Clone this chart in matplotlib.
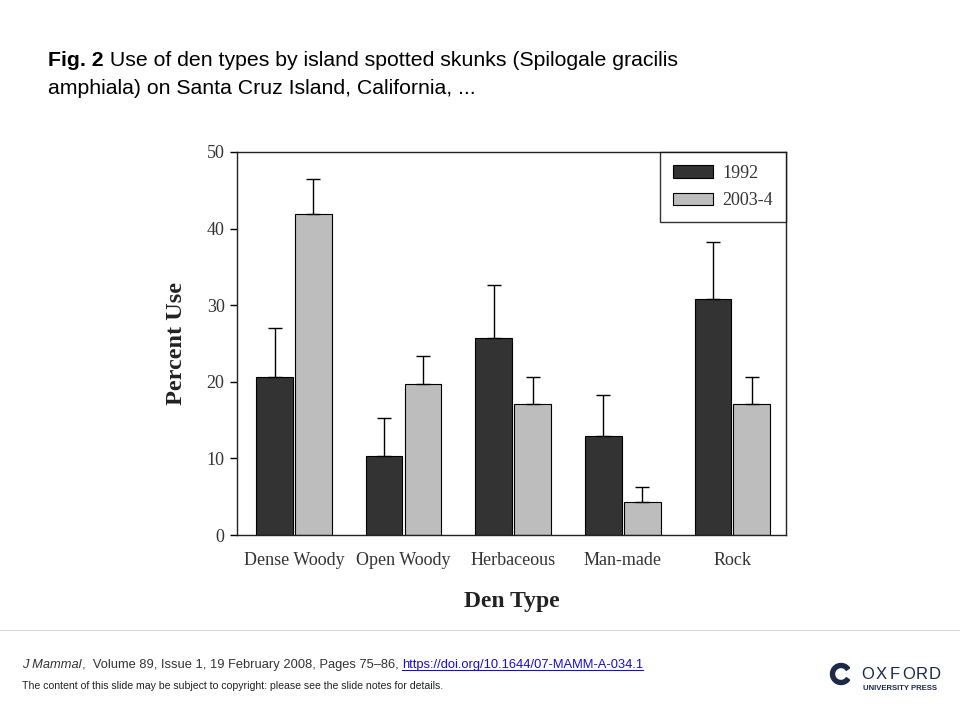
import matplotlib
matplotlib.use("Agg")
import matplotlib.pyplot as plt
import numpy as np
from matplotlib.patches import Wedge

categories = ["Dense Woody", "Open Woody", "Herbaceous", "Man-made", "Rock"]
series_names = ["1992", "2003-4"]
values_1992 = [20.6, 10.3, 25.7, 12.9, 30.8]
errors_1992 = [6.4, 5.0, 6.9, 5.4, 7.5]
values_2003 = [41.9, 19.7, 17.1, 4.3, 17.1]
errors_2003 = [4.6, 3.7, 3.5, 2.0, 3.5]
yticks = [0, 10, 20, 30, 40, 50]

fig = plt.figure(figsize=(9.6, 7.2), dpi=100)
fig.patch.set_facecolor("white")

ov = fig.add_axes([0, 0, 1, 1])
ov.set_xlim(0, 960)
ov.set_ylim(720, 0)
ov.axis("off")

sans = "Liberation Sans"
serif = "Liberation Serif"

t1 = ov.text(48, 66, "Fig. 2", fontsize=15.35, fontweight="bold", family=sans, va="baseline")
ov.annotate(" Use of den types by island spotted skunks (Spilogale gracilis",
            xy=(1, 0), xycoords=t1, fontsize=15.35, family=sans, va="bottom", ha="left")
ov.text(48, 94, "amphiala) on Santa Cruz Island, California, ...", fontsize=15.35, family=sans, va="baseline")

ov.plot([0, 960], [630, 630], color="#d9d9d9", lw=0.8)

f1 = ov.text(22, 668, "J Mammal", fontsize=9.3, family=sans, style="italic", va="baseline", color="#333333")
f2 = ov.annotate(",  Volume 89, Issue 1, 19 February 2008, Pages 75\u201386, ",
                 xy=(1, 0), xycoords=f1, fontsize=9.3, family=sans, va="bottom", ha="left", color="#333333")
f3 = ov.annotate("https://doi.org/10.1644/07-MAMM-A-034.1",
                 xy=(1, 0), xycoords=f2, fontsize=9.3, family=sans, va="bottom", ha="left", color="#1a0dcc")
ov.text(22, 689, "The content of this slide may be subject to copyright: please see the slide notes for details.",
        fontsize=7.6, family=sans, va="baseline", color="#222222")

# Oxford logo
navy = "#1c2a4a"
ov.add_patch(Wedge((841, 674), 10.5, 35, 325, width=4, color=navy))
for i, ch in enumerate("OXFORD"):
    ov.text(868 + i * 13.4, 679, ch, fontsize=12, family=sans, color=navy, va="baseline", ha="center")
ov.text(863, 690, "UNIVERSITY PRESS", fontsize=5.6, family=sans, fontweight="bold", color=navy, va="baseline")

# main chart
ax = fig.add_axes([237 / 960, 1 - 535 / 720, 549 / 960, 383 / 720])
x = np.arange(len(categories))
w = 0.335
dark = "#333333"
light = "#bdbdbd"
ax.bar(x - w / 2 - 0.01, values_1992, w, color=dark, edgecolor="black", lw=0.8, label=series_names[0],
       yerr=[np.zeros(5), errors_1992], error_kw=dict(ecolor="black", elinewidth=1, capsize=5, capthick=1), zorder=2)
ax.bar(x + w / 2 + 0.01, values_2003, w, color=light, edgecolor="black", lw=0.8, label=series_names[1],
       yerr=[np.zeros(5), errors_2003], error_kw=dict(ecolor="black", elinewidth=1, capsize=5, capthick=1), zorder=2)

ax.set_xlim(-0.52, 4.49)
ax.set_ylim(0, 50)
ax.set_yticks(yticks)
ax.set_yticklabels([str(v) for v in yticks], family=serif, fontsize=13, color="#333333")
ax.set_xticks(x)
ax.set_xticklabels(categories, family=serif, fontsize=13, color="#333333")
ax.tick_params(axis="x", length=0, pad=12)
ax.tick_params(axis="y", direction="out", length=5, width=1, pad=4)
for s in ax.spines.values():
    s.set_linewidth(1)
    s.set_color("#222222")
ax.set_ylabel("Percent Use", family=serif, fontsize=17.5, fontweight="bold", labelpad=14, color="#222222")
ax.set_xlabel("Den Type", family=serif, fontsize=17, fontweight="bold", labelpad=16, color="#222222")

leg = ax.legend(loc="upper right", bbox_to_anchor=(1.0, 1.0), prop=dict(family=serif, size=13),
                frameon=True, fancybox=False, edgecolor="black", borderaxespad=0,
                handlelength=2.2, handleheight=0.7, borderpad=0.7, labelspacing=0.6, handletextpad=0.55)
leg.get_frame().set_linewidth(1)
for t in leg.get_texts():
    t.set_color("#333333")

fig.canvas.draw()
r = fig.canvas.get_renderer()
bb = f3.get_window_extent(r)
inv = ov.transData.inverted()
(x0, y0), (x1, y1) = inv.transform([(bb.x0, bb.y0), (bb.x1, bb.y0)])
ov.plot([x0, x1], [y0 - 1, y1 - 1], color="#1a0dcc", lw=0.8)

fig.savefig("out.png", dpi=100, facecolor="white")
